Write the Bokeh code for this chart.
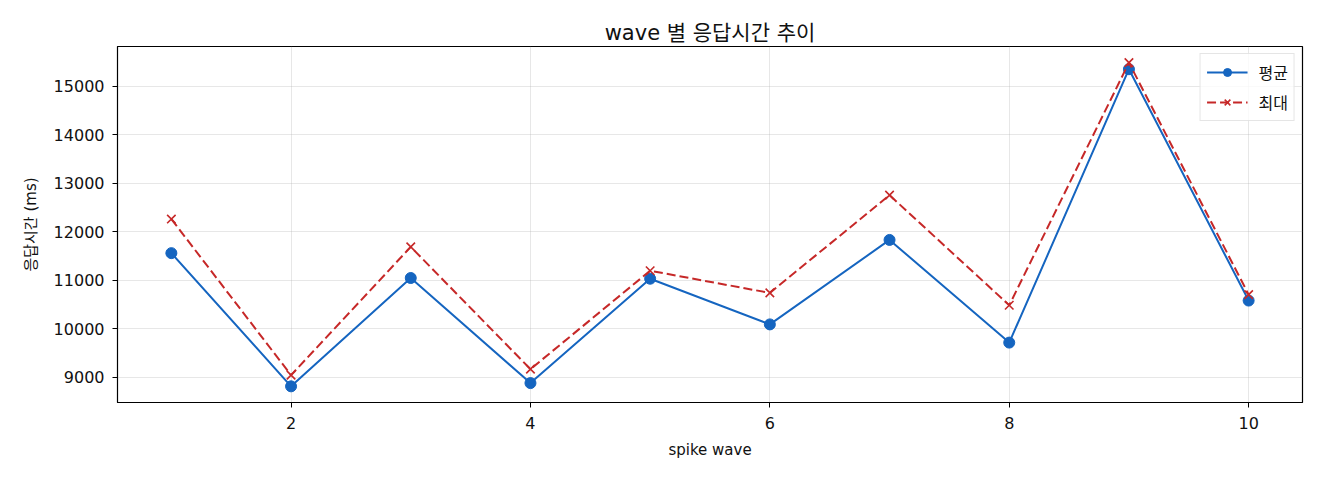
from bokeh.plotting import figure
from bokeh.models import ColumnDataSource, FixedTicker, Legend, LegendItem, Range1d
from bokeh.embed import file_html
from bokeh.resources import INLINE

FONT = "DejaVu Sans, Noto Sans CJK KR"

waves = [1, 2, 3, 4, 5, 6, 7, 8, 9, 10]
avg_ms = [11560, 8816, 11048, 8883, 11033, 10092, 11832, 9717, 15349, 10583]
max_ms = [12262, 9047, 11689, 9170, 11197, 10741, 12754, 10487, 15484, 10706]

x_ticks = [2, 4, 6, 8, 10]
y_ticks = [9000, 10000, 11000, 12000, 13000, 14000, 15000]

BLUE = "#1565c0"
RED = "#c62828"

source = ColumnDataSource(data={'wave': waves, 'avg': avg_ms, 'max': max_ms})

p = figure(width=1312, height=472, output_backend="svg", toolbar_location=None,
           title="wave 별 응답시간 추이",
           x_range=Range1d(0.55, 10.45), y_range=Range1d(8483, 15817),
           min_border_left=117, min_border_right=10, min_border_top=46,
           min_border_bottom=70)

p.title.align = "center"
p.title.text_font = FONT
p.title.text_font_size = "21px"
p.title.text_font_style = "normal"
p.title.text_color = "#111111"
p.title.standoff = 4

p.outline_line_color = "black"
p.outline_line_width = 1.2
p.background_fill_color = "white"
p.border_fill_color = "white"

# both axes
for ax in (p.xaxis, p.yaxis):
    ax.axis_line_color = "black"
    ax.major_tick_line_color = "black"
    ax.major_tick_out = 5
    ax.major_tick_in = 0
    ax.minor_tick_line_color = None
    ax.major_label_text_font = FONT
    ax.major_label_text_font_size = "16px"
    ax.major_label_text_color = "#111111"
    ax.axis_label_text_font = FONT
    ax.axis_label_text_font_size = "15px"
    ax.axis_label_text_font_style = "normal"
    ax.axis_label_text_color = "#111111"

p.xaxis.ticker = FixedTicker(ticks=x_ticks)
p.yaxis.ticker = FixedTicker(ticks=y_ticks)
p.xaxis.axis_label = "spike wave"
p.yaxis.axis_label = "응답시간 (ms)"
p.xaxis.major_label_standoff = 9
p.yaxis.major_label_standoff = 8
p.xaxis.axis_label_standoff = 9
p.yaxis.axis_label_standoff = 11

p.xgrid.ticker = FixedTicker(ticks=x_ticks)
p.ygrid.ticker = FixedTicker(ticks=y_ticks)
p.grid.grid_line_color = "#b0b0b0"
p.grid.grid_line_alpha = 0.3
p.grid.grid_line_width = 1

l_avg = p.line('wave', 'avg', source=source, color=BLUE, line_width=2)
s_avg = p.scatter('wave', 'avg', source=source, marker="circle", size=11,
                  fill_color=BLUE, line_color=BLUE)
l_max = p.line('wave', 'max', source=source, color=RED, line_width=2,
               line_dash="9 4")
s_max = p.scatter('wave', 'max', source=source, marker="x", size=12,
                  line_color=RED, line_width=1.6)

legend = Legend(items=[
    LegendItem(label="평균", renderers=[l_avg, s_avg]),
    LegendItem(label="최대", renderers=[l_max, s_max]),
], location="top_right")
legend.label_text_font = FONT
legend.label_text_font_size = "16px"
legend.label_text_color = "#111111"
legend.border_line_color = "#cccccc"
legend.border_line_width = 1
legend.background_fill_alpha = 0.8
legend.glyph_width = 41
legend.glyph_height = 20
legend.label_height = 20
legend.label_standoff = 11
legend.spacing = 6
legend.padding = 6
legend.margin = 7
p.add_layout(legend)

open("out.html", "w").write(file_html(p, INLINE))
